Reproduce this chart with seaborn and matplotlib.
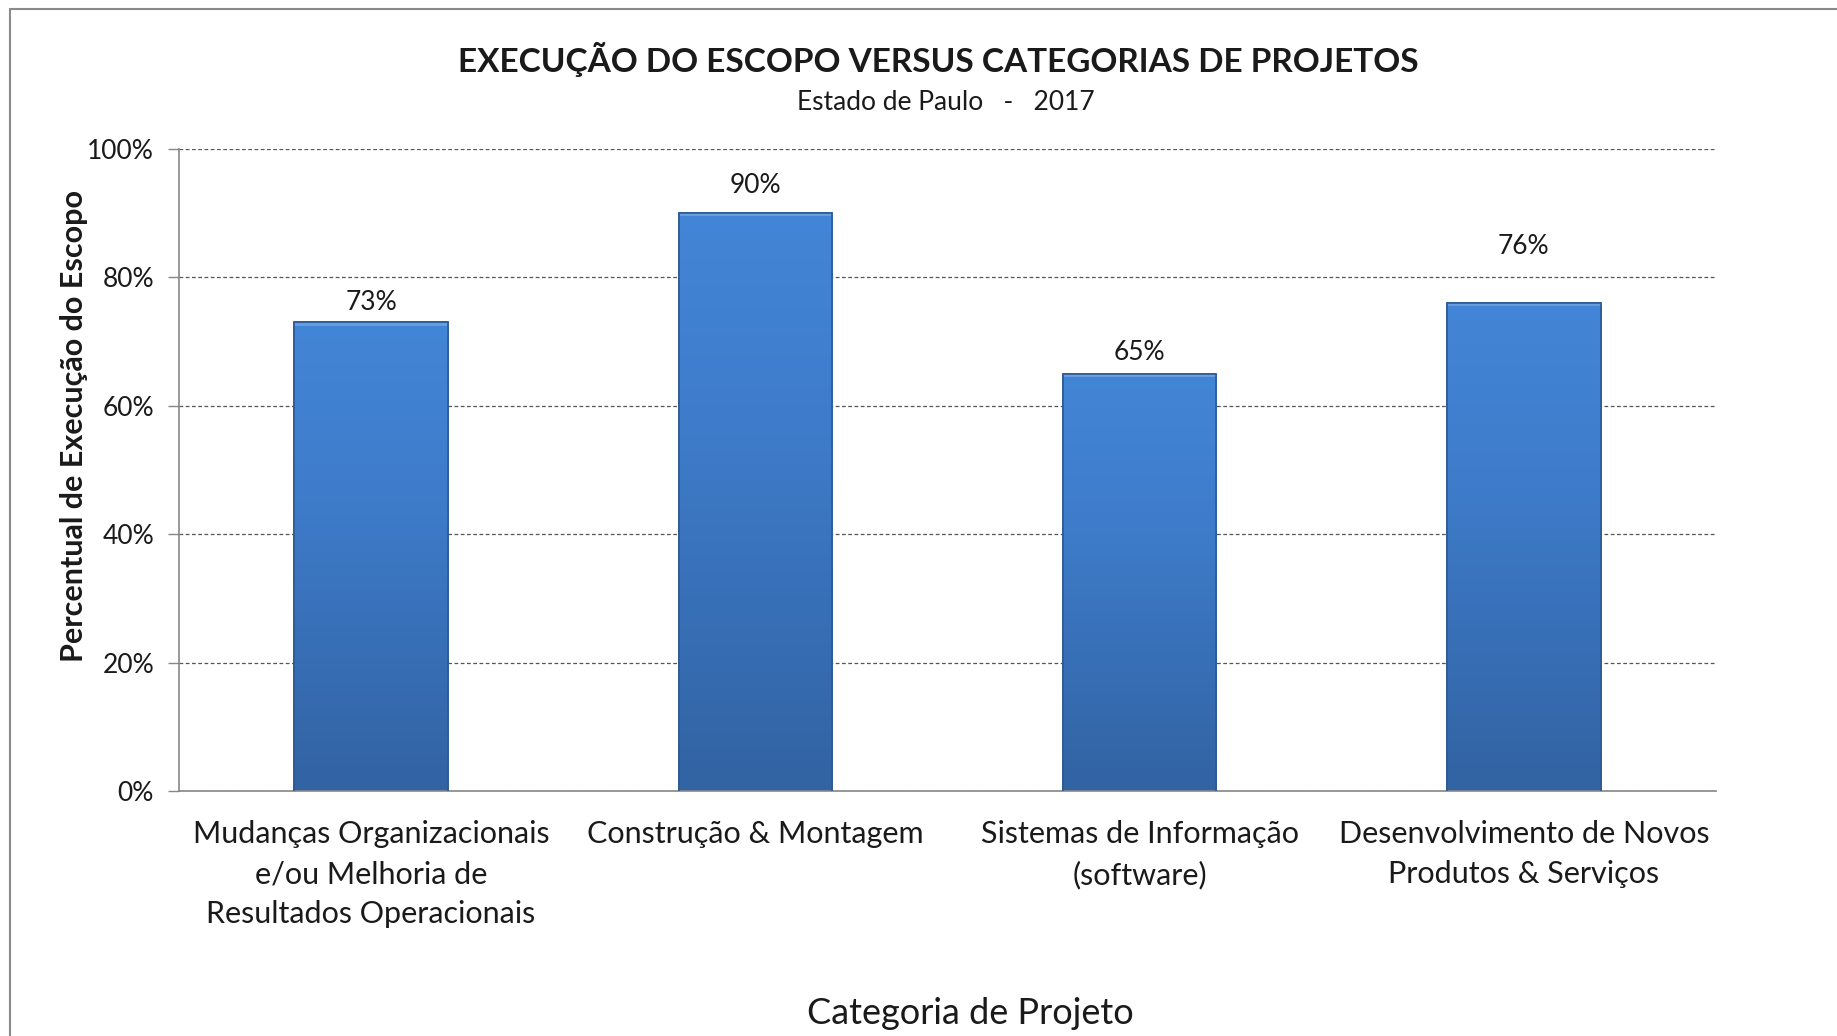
import numpy as np
import pandas as pd
import matplotlib
matplotlib.use("Agg")
import matplotlib.pyplot as plt
from matplotlib.colors import LinearSegmentedColormap
from matplotlib.lines import Line2D
import seaborn as sns

# ---- data ----
categories = [
    "Mudanças Organizacionais\ne/ou Melhoria de\nResultados Operacionais",
    "Construção & Montagem",
    "Sistemas de Informação\n(software)",
    "Desenvolvimento de Novos\nProdutos & Serviços",
]
values = [73, 90, 65, 76]
value_labels = ["73%", "90%", "65%", "76%"]
y_ticks = [0, 20, 40, 60, 80, 100]
y_tick_labels = ["0%", "20%", "40%", "60%", "80%", "100%"]
title = "EXECUÇÃO DO ESCOPO VERSUS CATEGORIAS DE PROJETOS"
subtitle = "Estado de Paulo   -   2017"
x_title = "Categoria de Projeto"
y_title = "Percentual de Execução do Escopo"

# label offsets above bar tops (points), as placed in the original
label_offsets = [14, 20, 15, 41]

sns.set_theme(style="white")
plt.rcParams["font.family"] = ["Lato", "DejaVu Sans"]
text_color = "#1a1a1a"

df = pd.DataFrame({"cat": categories, "val": values})

fig = plt.figure(figsize=(18.37, 10.36), dpi=100)
ax = fig.add_axes([179 / 1837, 1 - 791 / 1036, (1716 - 179) / 1837, (791 - 149) / 1036])

sns.barplot(data=df, x="cat", y="val", color="#3a72bd", width=0.40,
            saturation=1, ax=ax, edgecolor="#2d5a94", linewidth=1.2, zorder=2)

# gradient fill on each bar
cmap = LinearSegmentedColormap.from_list("g", ["#3263a2", "#3870b8", "#3f7dcc", "#4385d6"])
grad = np.linspace(0, 1, 256).reshape(-1, 1)
for p in ax.patches:
    x0, w, h = p.get_x(), p.get_width(), p.get_height()
    im = ax.imshow(grad, extent=[x0, x0 + w, 0, h], origin="lower", cmap=cmap,
                   aspect="auto", zorder=2.5)
    im.set_clip_path(p)
    ax.plot([x0, x0 + w], [h - 0.2, h - 0.2], color="#6a9fe0", lw=2.0,
            zorder=2.6, solid_capstyle="butt")
    ax.plot([x0, x0, x0 + w, x0 + w], [0, h, h, 0], color="#2d5a94", lw=1.2, zorder=2.7)

# value labels
for p, lab, off in zip(ax.patches, value_labels, label_offsets):
    ax.annotate(lab, (p.get_x() + p.get_width() / 2, p.get_height()),
                xytext=(0, off), textcoords="offset points",
                ha="center", va="center", fontsize=19, color=text_color)

ax.set_xlim(-0.5, len(categories) - 0.5)
ax.set_ylim(0, 100)
ax.set_yticks(y_ticks)
ax.set_yticklabels(y_tick_labels, fontsize=19, color=text_color)
ax.tick_params(axis="y", length=8, width=1, color="#868686", pad=10, direction="out", left=True)
ax.tick_params(axis="x", length=0, pad=21)
for t in ax.get_xticklabels():
    t.set_fontsize(22)
    t.set_color(text_color)
    t.set_linespacing(1.52)
    t.set_va("top")

ax.yaxis.grid(True, linestyle=(0, (3, 2)), color="#555555", linewidth=0.9)
ax.set_axisbelow(True)
for s in ["top", "right"]:
    ax.spines[s].set_visible(False)
for s in ["left", "bottom"]:
    ax.spines[s].set_color("#868686")
    ax.spines[s].set_linewidth(1.2)

ax.set_xlabel(x_title, fontsize=26, color=text_color)
ax.xaxis.set_label_coords(0.515, -0.347)
ax.xaxis.label.set_va("center")
ax.set_ylabel(y_title, fontsize=22, fontweight="bold", color=text_color)
ax.yaxis.set_label_coords(-0.068, 0.569)
ax.yaxis.label.set_va("center")

fig.text(0.511, 1 - 59 / 1036, title, ha="center", va="center",
         fontsize=24, fontweight="bold", color=text_color)
fig.text(0.515, 1 - 103 / 1036, subtitle, ha="center", va="center",
         fontsize=19, color=text_color)

# chart frame (left and top edges visible)
fig.add_artist(Line2D([10 / 1837, 10 / 1837], [0, 1 - 9 / 1036], transform=fig.transFigure,
                      color="#8a8a8a", lw=1.5))
fig.add_artist(Line2D([10 / 1837, 1], [1 - 9 / 1036, 1 - 9 / 1036], transform=fig.transFigure,
                      color="#8a8a8a", lw=1.5))

fig.savefig("out.png", dpi=100)
